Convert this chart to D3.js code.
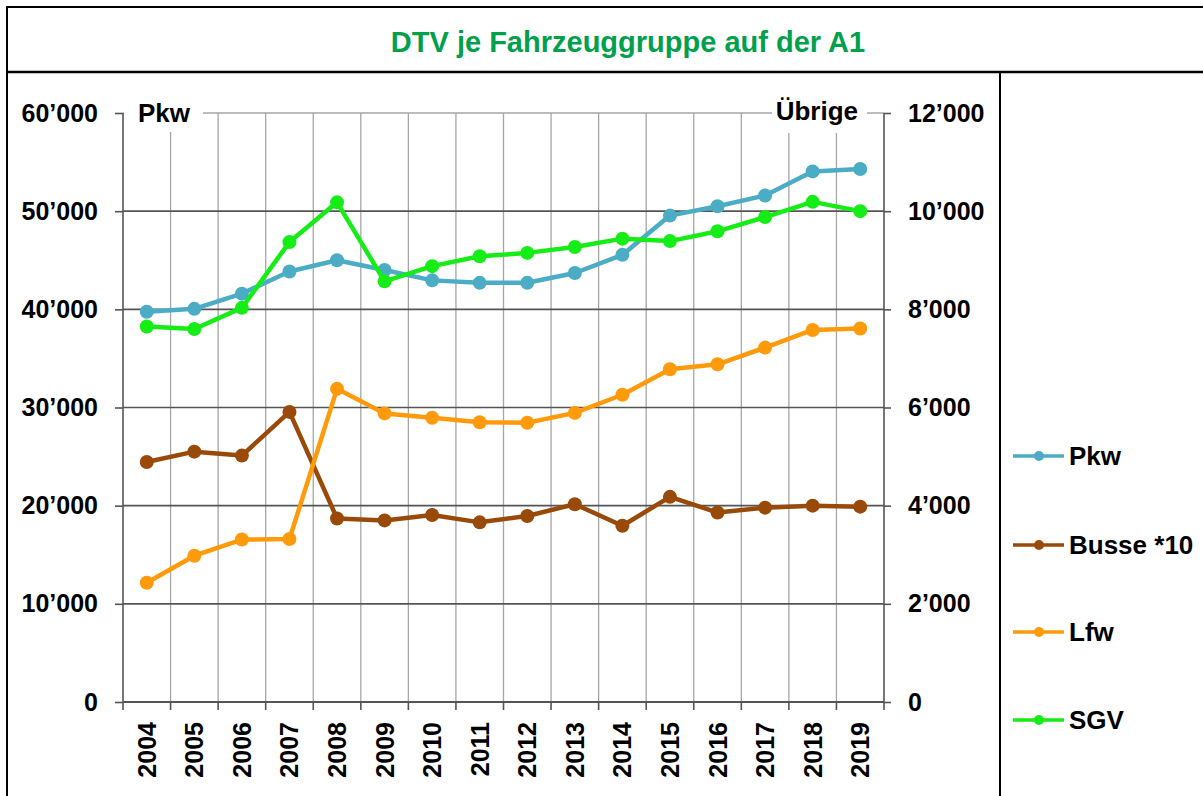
<!DOCTYPE html>
<html>
<head>
<meta charset="utf-8">
<script src="https://cdn.jsdelivr.net/npm/d3@7"></script>
<style>
  body { margin: 0; background: #fff; }
  svg { display: block; font-family: Arial, "Liberation Sans", sans-serif; }
</style>
</head>
<body>
<div id="chart"></div>
<script>
// DTV je Fahrzeuggruppe auf der A1

const years = ["2004","2005","2006","2007","2008","2009","2010","2011",
               "2012","2013","2014","2015","2016","2017","2018","2019"];

// left axis (Pkw)
const pkw = [39750, 40050, 41600, 43850, 45000, 44000, 42950, 42700,
             42700, 43700, 45550, 49550, 50500, 51600, 54050, 54300];

// right axis (Übrige)
const busse10 = [4890, 5100, 5020, 5910, 3740, 3700, 3810, 3660,
                 3790, 4030, 3590, 4180, 3860, 3960, 4000, 3980];
const lfw = [2430, 2980, 3310, 3320, 6380, 5880, 5790, 5700,
             5690, 5890, 6260, 6780, 6880, 7220, 7580, 7610];
const sgv = [7650, 7600, 8030, 9370, 10180, 8570, 8880, 9080,
             9150, 9270, 9440, 9390, 9590, 9880, 10190, 10000];

const leftTicks = [0, 10000, 20000, 30000, 40000, 50000, 60000];
const rightTicks = [0, 2000, 4000, 6000, 8000, 10000, 12000];

const series = [
  { name: "Pkw", values: pkw, axis: "left", color: "#4bacc6" },
  { name: "Busse *10", values: busse10, axis: "right", color: "#9a4a08" },
  { name: "Lfw", values: lfw, axis: "right", color: "#ff9a0a" },
  { name: "SGV", values: sgv, axis: "right", color: "#16ec16" }
];

const width = 1203, height = 796;
const plot = { left: 123, right: 884, top: 113, bottom: 702 };

const svg = d3.select("#chart").append("svg")
  .attr("width", width)
  .attr("height", height);

// frame: outer box, title row, legend divider
svg.append("rect")
  .attr("x", 7).attr("y", 7)
  .attr("width", 1250).attr("height", 830)
  .attr("fill", "none").attr("stroke", "#000").attr("stroke-width", 2);
svg.append("line")
  .attr("x1", 7).attr("x2", width).attr("y1", 72).attr("y2", 72)
  .attr("stroke", "#000").attr("stroke-width", 2.5);
svg.append("line")
  .attr("x1", 1000).attr("x2", 1000).attr("y1", 72).attr("y2", height)
  .attr("stroke", "#000").attr("stroke-width", 2);

svg.append("text")
  .attr("x", 628).attr("y", 52)
  .attr("text-anchor", "middle")
  .attr("font-size", "29px").attr("font-weight", "bold")
  .attr("fill", "#00a04c")
  .text("DTV je Fahrzeuggruppe auf der A1");

// scales
const x = d3.scaleBand().domain(years).range([plot.left, plot.right]);
const yL = d3.scaleLinear().domain([0, 60000]).range([plot.bottom, plot.top]);
const yR = d3.scaleLinear().domain([0, 12000]).range([plot.bottom, plot.top]);

const loc = d3.formatLocale({ decimal: ".", thousands: "\u2019", grouping: [3], currency: ["", ""] });
const fmt = loc.format(",");

// vertical gridlines at band boundaries
svg.append("g")
  .selectAll("line")
  .data(years.slice(1))
  .join("line")
  .attr("x1", d => x(d)).attr("x2", d => x(d))
  .attr("y1", plot.top).attr("y2", plot.bottom)
  .attr("stroke", "#a6a6a6").attr("stroke-width", 1.3);

// top border of the plot area
svg.append("line")
  .attr("x1", plot.left).attr("x2", plot.right)
  .attr("y1", plot.top).attr("y2", plot.top)
  .attr("stroke", "#a6a6a6").attr("stroke-width", 1.3);

// horizontal gridlines
svg.append("g")
  .selectAll("line")
  .data(leftTicks.slice(1, -1))
  .join("line")
  .attr("x1", plot.left).attr("x2", plot.right)
  .attr("y1", d => yL(d)).attr("y2", d => yL(d))
  .attr("stroke", "#555").attr("stroke-width", 1.6);

// axis labels with white boxes over the grid
svg.append("rect").attr("x", 124).attr("y", 98).attr("width", 79).attr("height", 34).attr("fill", "#fff");
svg.append("rect").attr("x", 772).attr("y", 98).attr("width", 95).attr("height", 35).attr("fill", "#fff");
svg.append("text")
  .attr("x", 138).attr("y", 122)
  .attr("font-size", "26px").attr("font-weight", "bold")
  .text("Pkw");
svg.append("text")
  .attr("x", 858).attr("y", 120)
  .attr("text-anchor", "end")
  .attr("font-size", "26px").attr("font-weight", "bold")
  .text("Übrige");

// left axis
const gL = svg.append("g")
  .attr("transform", `translate(${plot.left},0)`)
  .call(d3.axisLeft(yL).tickValues(leftTicks).tickFormat(fmt).tickSize(8).tickPadding(17));
// right axis
const gR = svg.append("g")
  .attr("transform", `translate(${plot.right},0)`)
  .call(d3.axisRight(yR).tickValues(rightTicks).tickFormat(fmt).tickSize(7).tickPadding(17));

[gL, gR].forEach(g => {
  g.select(".domain").attr("stroke", "#555").attr("stroke-width", 1.6)
    .attr("d", `M0,${plot.top}V${plot.bottom}`);
  g.selectAll(".tick line").attr("stroke", "#555").attr("stroke-width", 1.6);
  g.selectAll(".tick text")
    .attr("font-size", "25px").attr("font-weight", "bold")
    .attr("fill", "#000").attr("font-family", "Arial, 'Liberation Sans', sans-serif");
});

// x axis
const bw = x.bandwidth();
const gX = svg.append("g")
  .attr("transform", `translate(0,${plot.bottom})`)
  .call(d3.axisBottom(x).tickSize(8).tickSizeOuter(0));
gX.select(".domain").attr("stroke", "#555").attr("stroke-width", 2)
  .attr("d", `M${plot.left},0H${plot.right}`);
gX.selectAll(".tick line")
  .attr("x1", -bw / 2).attr("x2", -bw / 2)
  .attr("stroke", "#555").attr("stroke-width", 1.6);
gX.append("line")
  .attr("x1", plot.right).attr("x2", plot.right)
  .attr("y1", 0).attr("y2", 8)
  .attr("stroke", "#555").attr("stroke-width", 1.6);
gX.selectAll(".tick text")
  .attr("transform", "rotate(-90)")
  .attr("text-anchor", "end")
  .attr("x", -20).attr("y", 0).attr("dy", "0.36em")
  .attr("font-size", "25px").attr("font-weight", "bold")
  .attr("fill", "#000").attr("font-family", "Arial, 'Liberation Sans', sans-serif");

// series
const cx = i => x(years[i]) + bw / 2;
series.forEach(s => {
  const y = s.axis === "left" ? yL : yR;
  const line = d3.line().x((d, i) => cx(i)).y(d => y(d));
  svg.append("path")
    .datum(s.values)
    .attr("d", line)
    .attr("fill", "none")
    .attr("stroke", s.color)
    .attr("stroke-width", 4.5)
    .attr("stroke-linejoin", "round");
  svg.append("g")
    .selectAll("circle")
    .data(s.values)
    .join("circle")
    .attr("cx", (d, i) => cx(i))
    .attr("cy", d => y(d))
    .attr("r", 7)
    .attr("fill", s.color);
});

// legend
const legY = [456, 545, 632, 720];
const leg = svg.append("g");
series.forEach((s, i) => {
  const g = leg.append("g").attr("transform", `translate(1013,${legY[i]})`);
  g.append("line").attr("x1", 0).attr("x2", 51).attr("y1", 0).attr("y2", 0)
    .attr("stroke", s.color).attr("stroke-width", 3.5);
  g.append("circle").attr("cx", 26).attr("cy", 0).attr("r", 5).attr("fill", s.color);
  g.append("text")
    .attr("x", 56).attr("y", 0).attr("dy", "0.36em")
    .attr("font-size", "26px").attr("font-weight", "bold")
    .text(s.name);
});
</script>
</body>
</html>
